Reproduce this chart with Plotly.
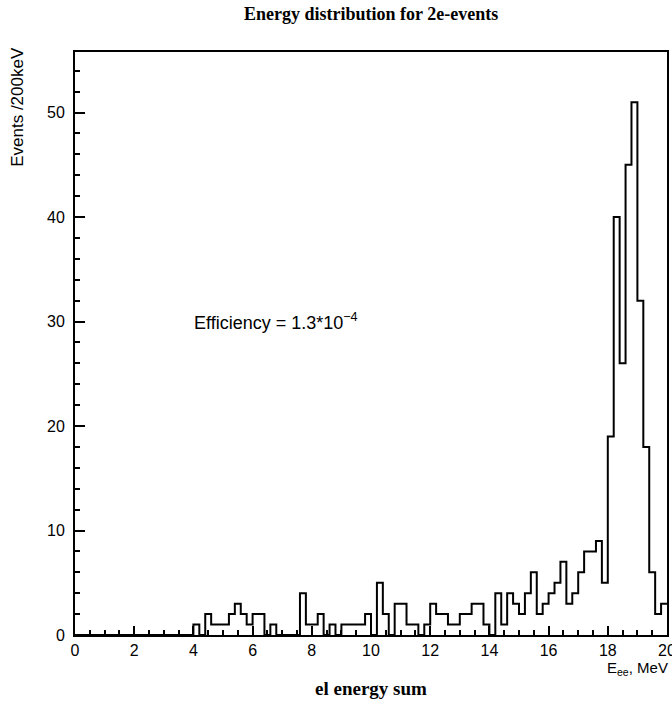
import numpy as np
import plotly.graph_objects as go

# Histogram: 100 bins of 0.2 MeV from 0 to 20 MeV
bin_width = 0.2
bin_edges = [round(i * bin_width, 1) for i in range(101)]
counts = [
    0, 0, 0, 0, 0, 0, 0, 0, 0, 0,      # 0.0 - 2.0
    0, 0, 0, 0, 0, 0, 0, 0, 0, 0,      # 2.0 - 4.0
    1, 0, 2, 1, 1, 1, 2, 3, 2, 1,      # 4.0 - 6.0
    2, 2, 0, 1, 0, 0, 0, 0, 4, 1,      # 6.0 - 8.0
    1, 2, 0, 1, 0, 1, 1, 1, 1, 2,      # 8.0 - 10.0
    0, 5, 2, 0, 3, 3, 1, 1, 0, 1,      # 10.0 - 12.0
    3, 2, 2, 1, 1, 2, 2, 3, 3, 1,      # 12.0 - 14.0
    0, 4, 1, 4, 3, 2, 4, 6, 2, 3,      # 14.0 - 16.0
    4, 5, 7, 3, 4, 6, 8, 8, 9, 5,      # 16.0 - 18.0
    19, 40, 26, 45, 51, 32, 18, 6, 2, 3  # 18.0 - 20.0
]
x_tick_vals = [0, 2, 4, 6, 8, 10, 12, 14, 16, 18, 20]
y_tick_vals = [0, 10, 20, 30, 40, 50]

title_text = "Energy distribution for 2e-events"
x_title = "el energy sum"
x_unit = "E<sub>ee</sub>, MeV"
y_title = "Events /200keV"
eff_text = "Efficiency = 1.3*10<sup>−4</sup>"

step_y = counts + [counts[-1]]

fig = go.Figure()
fig.add_trace(go.Scatter(
    x=bin_edges, y=step_y, mode="lines", line_shape="hv",
    line=dict(color="black", width=2), hoverinfo="skip", showlegend=False,
))

axis_font = dict(family="Liberation Sans, Arial, sans-serif", size=16, color="black")

fig.update_layout(
    width=672, height=702,
    margin=dict(l=75, r=5, t=52, b=67),
    paper_bgcolor="white", plot_bgcolor="white",
    showlegend=False,
    xaxis=dict(
        range=[0, 20], tickvals=x_tick_vals, ticks="inside", ticklen=9,
        tickwidth=1.5, tickcolor="black",
        minor=dict(dtick=0.5, tick0=0, ticks="inside", ticklen=5, tickwidth=1.5, tickcolor="black"),
        showline=True, linecolor="black", linewidth=2, mirror=True,
        showgrid=False, zeroline=False, tickfont=axis_font, ticklabelstandoff=0,
        ticklabeloverflow="allow", automargin=False,
    ),
    yaxis=dict(
        range=[0, 55.8], tickvals=y_tick_vals, ticks="inside", ticklen=10,
        tickwidth=1.5, tickcolor="black",
        minor=dict(dtick=2, tick0=0, ticks="inside", ticklen=5, tickwidth=1.5, tickcolor="black"),
        showline=True, linecolor="black", linewidth=2, mirror=True,
        showgrid=False, zeroline=False, tickfont=axis_font, ticklabelstandoff=5,
        automargin=False,
    ),
    annotations=[
        dict(text="<b>" + title_text + "</b>", xref="paper", yref="paper",
             x=0.5, y=1, yanchor="middle", yshift=38, showarrow=False,
             font=dict(family="Liberation Serif, Times New Roman, serif", size=18, color="black")),
        dict(text="<b>" + x_title + "</b>", xref="paper", yref="paper",
             x=0.5, y=0, yanchor="middle", yshift=-53, showarrow=False,
             font=dict(family="Liberation Serif, Times New Roman, serif", size=19, color="black")),
        dict(text=x_unit, xref="paper", yref="paper",
             x=1.0, y=0, xanchor="right", yanchor="middle", yshift=-33, xshift=3, showarrow=False,
             font=dict(family="Liberation Sans, Arial, sans-serif", size=15, color="black")),
        dict(text=y_title, xref="paper", yref="paper", textangle=-90,
             x=0, xshift=-57, y=0.906, xanchor="center", yanchor="middle", showarrow=False,
             font=dict(family="Liberation Sans, Arial, sans-serif", size=17, color="black")),
        dict(text=eff_text, xref="x", yref="y", x=3.95, y=30, xanchor="left",
             yanchor="middle", showarrow=False,
             font=dict(family="Liberation Sans, Arial, sans-serif", size=18, color="black")),
    ],
)

fig.write_html(
    "out.html",
    config={"displayModeBar": False},
    post_script="document.body.style.margin='0';document.body.style.overflow='hidden';",
)
